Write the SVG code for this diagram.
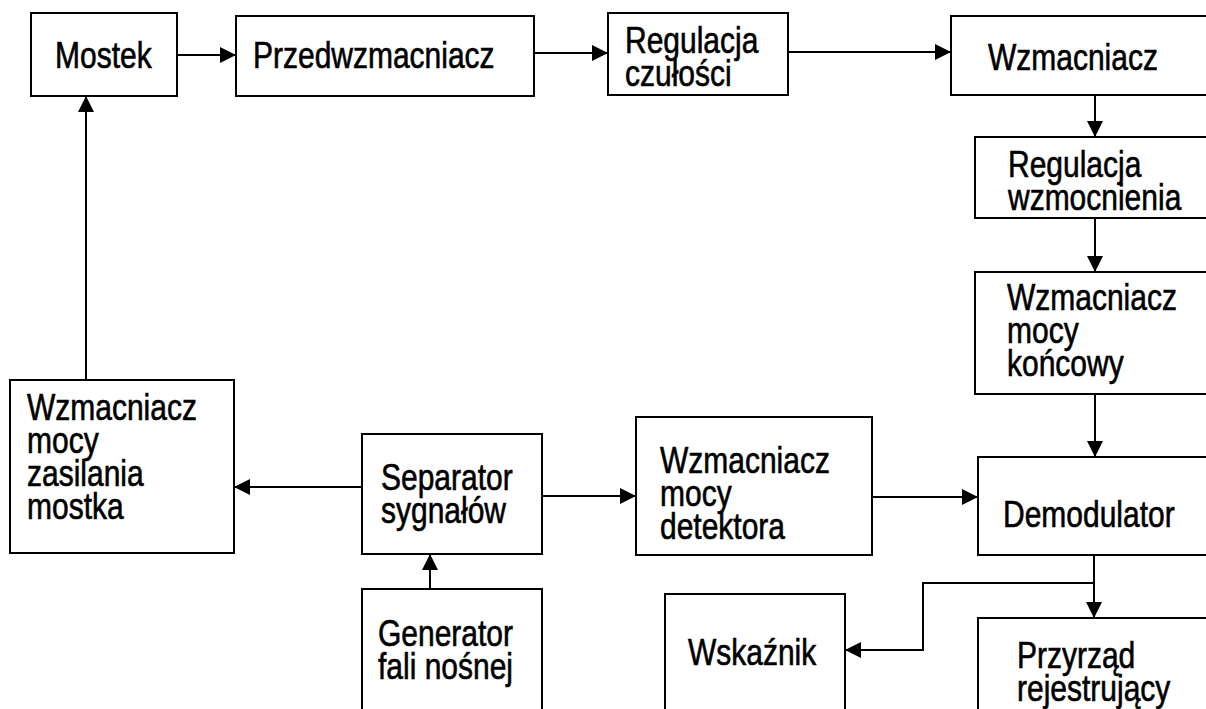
<svg xmlns="http://www.w3.org/2000/svg" width="1206" height="709" viewBox="0 0 1206 709">
<style>
.box{fill:#fff;stroke:#000;stroke-width:2}
.t{font-family:"Liberation Sans",Arial,sans-serif;font-size:30px;fill:#000;stroke:#000;stroke-width:0.5}
.c{fill:none;stroke:#000;stroke-width:2}
</style>
<defs>
<marker id="ah" markerUnits="userSpaceOnUse" markerWidth="16" markerHeight="16" refX="16" refY="8" orient="auto">
<path d="M0,0 L16,8 L0,16 z" fill="#000"/>
</marker>
</defs>
<rect width="1206" height="709" fill="#fff"/>
<g id="connectors">
<line class="c" x1="177" y1="55" x2="236" y2="55" marker-end="url(#ah)"/>
<line class="c" x1="534" y1="53" x2="608" y2="53" marker-end="url(#ah)"/>
<line class="c" x1="788" y1="52" x2="951" y2="52" marker-end="url(#ah)"/>
<line class="c" x1="1095" y1="95" x2="1095" y2="137" marker-end="url(#ah)"/>
<line class="c" x1="1095" y1="218" x2="1095" y2="272" marker-end="url(#ah)"/>
<line class="c" x1="1095" y1="394" x2="1095" y2="457" marker-end="url(#ah)"/>
<line class="c" x1="86" y1="380" x2="86" y2="96" marker-end="url(#ah)"/>
<line class="c" x1="362" y1="487" x2="234" y2="487" marker-end="url(#ah)"/>
<line class="c" x1="542" y1="496" x2="636" y2="496" marker-end="url(#ah)"/>
<line class="c" x1="430" y1="589" x2="430" y2="554" marker-end="url(#ah)"/>
<line class="c" x1="872" y1="497" x2="978" y2="497" marker-end="url(#ah)"/>
<line class="c" x1="1094" y1="555" x2="1094" y2="618" marker-end="url(#ah)"/>
<polyline class="c" points="1094,583 923,583 923,650 845,650" marker-end="url(#ah)"/>
</g>
<g id="mostek"><rect class="box" x="31" y="13" width="146" height="83"/>
<text class="t" transform="translate(55,68) scale(1,1.25)">Mostek</text></g>
<g id="przedwzmacniacz"><rect class="box" x="236" y="16" width="298" height="80"/>
<text class="t" transform="translate(253,68) scale(1,1.25)">Przedwzmacniacz</text></g>
<g id="regulacja-czulosci"><rect class="box" x="608" y="13" width="180" height="82"/>
<text class="t" transform="translate(625,53) scale(1,1.25)"><tspan x="0" y="0">Regulacja</tspan><tspan x="0" y="26.4">czułości</tspan></text></g>
<g id="wzmacniacz"><rect class="box" x="951" y="16" width="270" height="79"/>
<text class="t" transform="translate(988,70) scale(1,1.25)">Wzmacniacz</text></g>
<g id="regulacja-wzmocnienia"><rect class="box" x="975" y="137" width="250" height="81"/>
<text class="t" transform="translate(1008,177) scale(1,1.25)"><tspan x="0" y="0">Regulacja</tspan><tspan x="0" y="26.4">wzmocnienia</tspan></text></g>
<g id="wzmacniacz-mocy-koncowy"><rect class="box" x="975" y="272" width="250" height="122"/>
<text class="t" transform="translate(1007,310) scale(1,1.25)"><tspan x="0" y="0">Wzmacniacz</tspan><tspan x="0" y="26.4">mocy</tspan><tspan x="0" y="52.8">końcowy</tspan></text></g>
<g id="demodulator"><rect class="box" x="978" y="457" width="250" height="98"/>
<text class="t" transform="translate(1003,527) scale(1,1.25)">Demodulator</text></g>
<g id="wzmacniacz-mocy-zasilania"><rect class="box" x="10" y="380" width="224" height="173"/>
<text class="t" transform="translate(27,420) scale(1,1.25)"><tspan x="0" y="0">Wzmacniacz</tspan><tspan x="0" y="26.4">mocy</tspan><tspan x="0" y="52.8">zasilania</tspan><tspan x="0" y="79.2">mostka</tspan></text></g>
<g id="separator"><rect class="box" x="362" y="434" width="180" height="120"/>
<text class="t" transform="translate(381,490) scale(1,1.25)"><tspan x="0" y="0">Separator</tspan><tspan x="0" y="26.4">sygnałów</tspan></text></g>
<g id="wzmacniacz-detektora"><rect class="box" x="636" y="417" width="236" height="138"/>
<text class="t" transform="translate(660,473) scale(1,1.25)"><tspan x="0" y="0">Wzmacniacz</tspan><tspan x="0" y="26.4">mocy</tspan><tspan x="0" y="52.8">detektora</tspan></text></g>
<g id="generator"><rect class="box" x="362" y="589" width="180" height="130"/>
<text class="t" transform="translate(378,646) scale(1,1.25)"><tspan x="0" y="0">Generator</tspan><tspan x="0" y="26.4">fali nośnej</tspan></text></g>
<g id="wskaznik"><rect class="box" x="665" y="594" width="180" height="130"/>
<text class="t" transform="translate(688,665) scale(1,1.25)">Wskaźnik</text></g>
<g id="przyrzad"><rect class="box" x="978" y="618" width="250" height="100"/>
<text class="t" transform="translate(1017,668) scale(1,1.25)"><tspan x="0" y="0">Przyrząd</tspan><tspan x="0" y="26.4">rejestrujący</tspan></text></g>
</svg>
